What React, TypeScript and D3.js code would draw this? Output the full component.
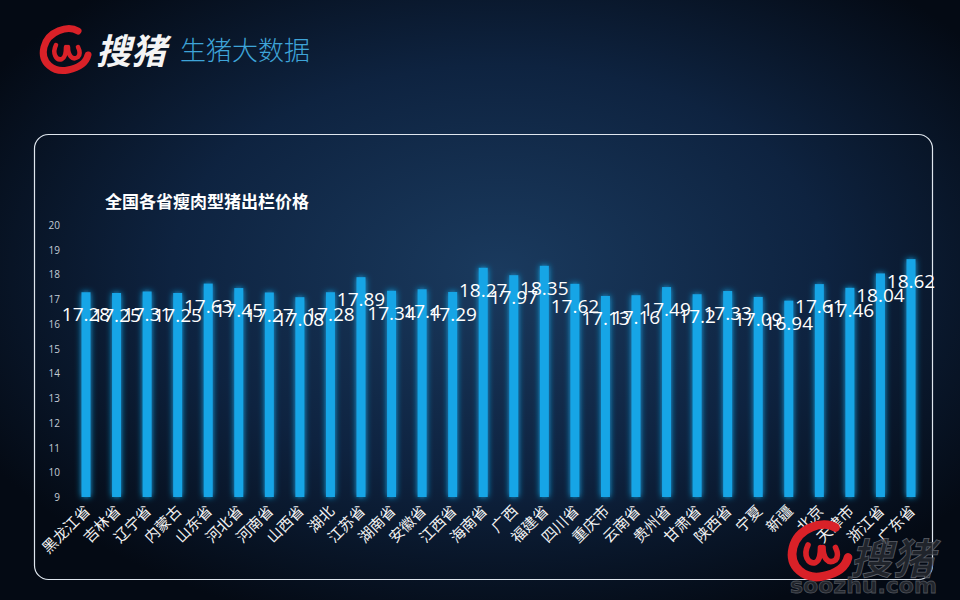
import { useEffect, useRef } from "react";
import * as d3 from "d3";

const provinces = [
  "黑龙江省", "吉林省", "辽宁省", "内蒙古", "山东省", "河北省", "河南省",
  "山西省", "湖北", "江苏省", "湖南省", "安徽省", "江西省", "海南省",
  "广西", "福建省", "四川省", "重庆市", "云南省", "贵州省", "甘肃省",
  "陕西省", "宁夏", "新疆", "北京", "天津市", "浙江省", "广东省",
];
const prices = [
  17.28, 17.25, 17.31, 17.25, 17.63, 17.45, 17.27,
  17.08, 17.28, 17.89, 17.34, 17.4, 17.29, 18.27,
  17.97, 18.35, 17.62, 17.13, 17.16, 17.49, 17.2,
  17.33, 17.09, 16.94, 17.61, 17.46, 18.04, 18.62,
];
const yTicks = [9, 10, 11, 12, 13, 14, 15, 16, 17, 18, 19, 20];

const W = 960, H = 600;
const CJK = "'Noto Sans CJK SC', sans-serif";

export default function App() {
  const ref = useRef<SVGSVGElement>(null);

  useEffect(() => {
    if (!ref.current) return;
    const svg = d3.select(ref.current).attr("width", W).attr("height", H);
    svg.selectAll("*").remove();

    const defs = svg.append("defs");
    const bg = defs.append("radialGradient").attr("id", "bg")
      .attr("cx", 0.52).attr("cy", 0.45).attr("r", 0.62);
    bg.append("stop").attr("offset", "0%").attr("stop-color", "#1a3a5e");
    bg.append("stop").attr("offset", "55%").attr("stop-color", "#0e2340");
    bg.append("stop").attr("offset", "100%").attr("stop-color", "#040a14");

    const glow = defs.append("filter").attr("id", "glow")
      .attr("x", "-150%").attr("y", "-10%").attr("width", "400%").attr("height", "120%");
    glow.append("feGaussianBlur").attr("in", "SourceGraphic").attr("stdDeviation", 3).attr("result", "b");
    const merge = glow.append("feMerge");
    merge.append("feMergeNode").attr("in", "b");
    merge.append("feMergeNode").attr("in", "SourceGraphic");

    svg.append("rect").attr("width", W).attr("height", H).attr("fill", "url(#bg)");

    // red swirl logo
    const logo = (g: d3.Selection<SVGGElement, unknown, null, undefined>) => {
      g.append("path")
        .attr("d", "M14,-18 C4,-24 -16,-18 -20,-2 C-24,14 -10,24 4,21 C14,19 22,14 24,6")
        .attr("fill", "none").attr("stroke", "#d92128").attr("stroke-width", 7)
        .attr("stroke-linecap", "round");
      g.append("path")
        .attr("d", "M-8,-4 C-12,4 -8,12 -2,10 C2,8 2,2 2,-2 M4,-2 C4,6 8,12 14,8 C16,6 16,2 14,-2")
        .attr("fill", "none").attr("stroke", "#d92128").attr("stroke-width", 4.5)
        .attr("stroke-linecap", "round");
    };
    logo(svg.append("g").attr("transform", "translate(64,49)"));
    svg.append("text").attr("x", 96).attr("y", 64)
      .attr("font-family", CJK).attr("font-size", 35).attr("font-weight", 700)
      .attr("fill", "#f4f4f4").attr("font-style", "italic").text("搜猪");
    svg.append("text").attr("x", 180).attr("y", 60)
      .attr("font-family", CJK).attr("font-size", 26).attr("font-weight", 300)
      .attr("fill", "#3ea4d8").text("生猪大数据");

    // panel
    svg.append("rect").attr("x", 34.5).attr("y", 134.5).attr("width", 898).attr("height", 445)
      .attr("rx", 14).attr("fill", "none").attr("stroke", "#dfe6ee").attr("stroke-width", 1.2);

    svg.append("text").attr("x", 105).attr("y", 208)
      .attr("font-family", CJK).attr("font-size", 17).attr("font-weight", 700)
      .attr("fill", "#ffffff").text("全国各省瘦肉型猪出栏价格");

    const x = d3.scalePoint<string>().domain(provinces).range([86, 911]);
    const y = d3.scaleLinear().domain([9, 20]).range([497, 225]);

    // y axis labels
    svg.append("g").selectAll("text").data(yTicks).enter().append("text")
      .attr("x", 60).attr("y", d => y(d) + 4)
      .attr("text-anchor", "end").attr("font-family", "'Open Sans', sans-serif")
      .attr("font-size", 10).attr("fill", "#c4ccd6").text(d => d);

    const bw = 9;
    svg.append("g").attr("filter", "url(#glow)").selectAll("rect").data(prices).enter().append("rect")
      .attr("x", (_, i) => x(provinces[i])! - bw / 2)
      .attr("y", d => y(d))
      .attr("width", bw)
      .attr("height", d => y(9) - y(d))
      .attr("fill", "#18a5e6");

    // value labels
    svg.append("g").selectAll("text").data(prices).enter().append("text")
      .attr("x", (_, i) => x(provinces[i])!)
      .attr("y", d => y(d) + 29)
      .attr("text-anchor", "middle").attr("font-family", "'Open Sans', sans-serif")
      .attr("font-size", 19).attr("fill", "#ffffff").text(d => d);

    // category labels
    svg.append("g").selectAll("text").data(provinces).enter().append("text")
      .attr("transform", d => `translate(${x(d)! + 5},${512}) rotate(-45)`)
      .attr("text-anchor", "end").attr("font-family", CJK)
      .attr("font-size", 15).attr("fill", "#f2f2f2").text(d => d);

    // watermark
    logo(svg.append("g").attr("transform", "translate(818,550) scale(1.25)"));
    svg.append("text").attr("x", 850).attr("y", 574)
      .attr("font-family", CJK).attr("font-size", 42).attr("font-weight", 700)
      .attr("font-style", "italic")
      .attr("fill", "#2a2d33").attr("fill-opacity", 0.75)
      .attr("stroke", "#5a5e66").attr("stroke-width", 0.8).text("搜猪");
    svg.append("text").attr("x", 790).attr("y", 593)
      .attr("font-family", "'DejaVu Sans', sans-serif").attr("font-size", 22).attr("font-weight", 700)
      .attr("fill", "#2a2d33").attr("fill-opacity", 0.8)
      .attr("stroke", "#4a4e56").attr("stroke-width", 0.8).text("soozhu.com");
  }, []);

  return <svg ref={ref} style={{ position: "absolute", left: 0, top: 0, display: "block" }} />;
}
